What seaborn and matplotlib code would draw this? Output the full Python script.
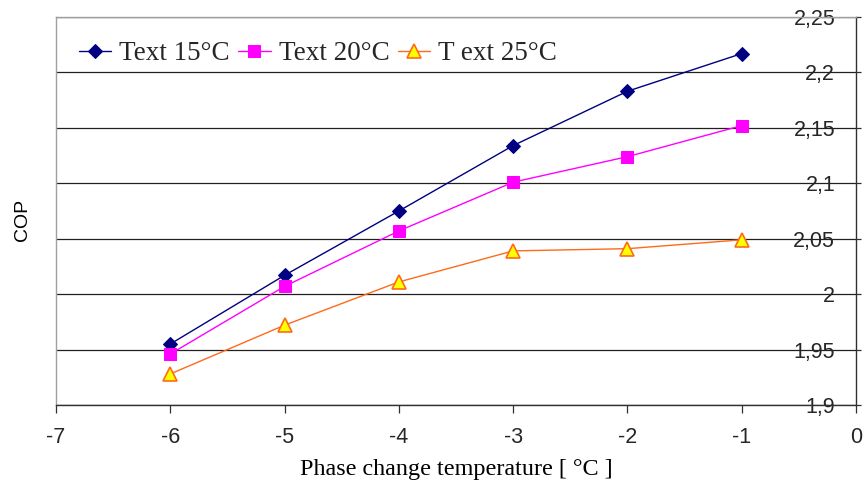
import matplotlib
matplotlib.use("Agg")
import matplotlib.pyplot as plt
from matplotlib.ticker import MultipleLocator, FuncFormatter
import seaborn as sns
import pandas as pd

# ---- data ----
phase_temp = [-6, -5, -4, -3, -2, -1]
cop_text15 = [1.955, 2.017, 2.075, 2.134, 2.183, 2.217]
cop_text20 = [1.946, 2.007, 2.057, 2.101, 2.124, 2.152]
cop_text25 = [1.928, 1.972, 2.011, 2.039, 2.041, 2.049]
series_names = ["Text 15°C", "Text 20°C", "T ext 25°C"]
x_ticks = [-7, -6, -5, -4, -3, -2, -1, 0]

sns.set_theme(style="white")
plt.rcParams["axes.unicode_minus"] = False
plt.rcParams["font.family"] = ["Liberation Sans", "DejaVu Sans"]

df = pd.concat([
    pd.DataFrame({"x": phase_temp, "y": vals, "series": name})
    for name, vals in zip(series_names, [cop_text15, cop_text20, cop_text25])
])

fig = plt.figure(figsize=(8.63, 4.94), dpi=100)
ax = fig.add_axes([0.0649, 0.1802, 0.9270, 0.7854])

styles = {
    "Text 15°C": dict(color="#000080", marker="D", markersize=7, markerfacecolor="#000080",
                      markeredgecolor="#000080"),
    "Text 20°C": dict(color="#FF00FF", marker="s", markersize=8.5, markerfacecolor="#FF00FF",
                      markeredgecolor="#FF00FF"),
    "T ext 25°C": dict(color="#FF6A1A", marker="^", markersize=9.5, markerfacecolor="#FFFF00",
                       markeredgecolor="#FF6A1A", markeredgewidth=1.2),
}
for name in series_names:
    sub = df[df["series"] == name]
    sns.lineplot(data=sub, x="x", y="y", ax=ax, label=name, linewidth=1.0, **styles[name])

ax.set_xlim(-7, 0)
ax.set_ylim(1.9, 2.25)
ax.set_xticks(x_ticks)
ax.set_xticklabels([str(t) for t in x_ticks])
ax.yaxis.set_major_locator(MultipleLocator(0.05))
ax.yaxis.set_major_formatter(FuncFormatter(lambda v, p: f"{v:g}".replace(".", ",")))

ax.grid(axis="y", color="#202020", linewidth=0.9)
ax.grid(axis="x", visible=False)

for side in ["top", "left"]:
    ax.spines[side].set_color("#a0a0a0")
    ax.spines[side].set_linewidth(1.0)
for side in ["bottom", "right"]:
    ax.spines[side].set_color("#303030")
    ax.spines[side].set_linewidth(1.0)

ax.yaxis.tick_right()
ax.tick_params(axis="y", which="both", right=True, left=False, direction="out",
               length=3.5, width=0.9, color="#303030", labelsize=15.5, pad=-18.5,
               labelright=True, labelleft=False)
for t in ax.get_yticklabels():
    t.set_horizontalalignment("right")
ax.tick_params(axis="x", bottom=True, direction="out", length=6, width=0.9,
               color="#303030", labelsize=15.5, pad=10)

ax.yaxis.set_label_position("left")
ax.set_ylabel("COP", fontsize=14, color="black")
ax.yaxis.set_label_coords(-0.031, 0.477)
ax.set_xlabel("Phase change temperature [ °C ]", fontsize=17.4,
              family=["Liberation Serif", "DejaVu Serif"], labelpad=8, color="black")

leg = ax.legend(loc="upper left", bbox_to_anchor=(0.015, 0.965), ncol=3, frameon=False,
                handlelength=1.2, handletextpad=0.3, columnspacing=0.3,
                prop={"family": ["Liberation Serif", "DejaVu Serif"], "size": 19.5},
                borderaxespad=0)

fig.savefig("out.png", dpi=100, facecolor="white")
